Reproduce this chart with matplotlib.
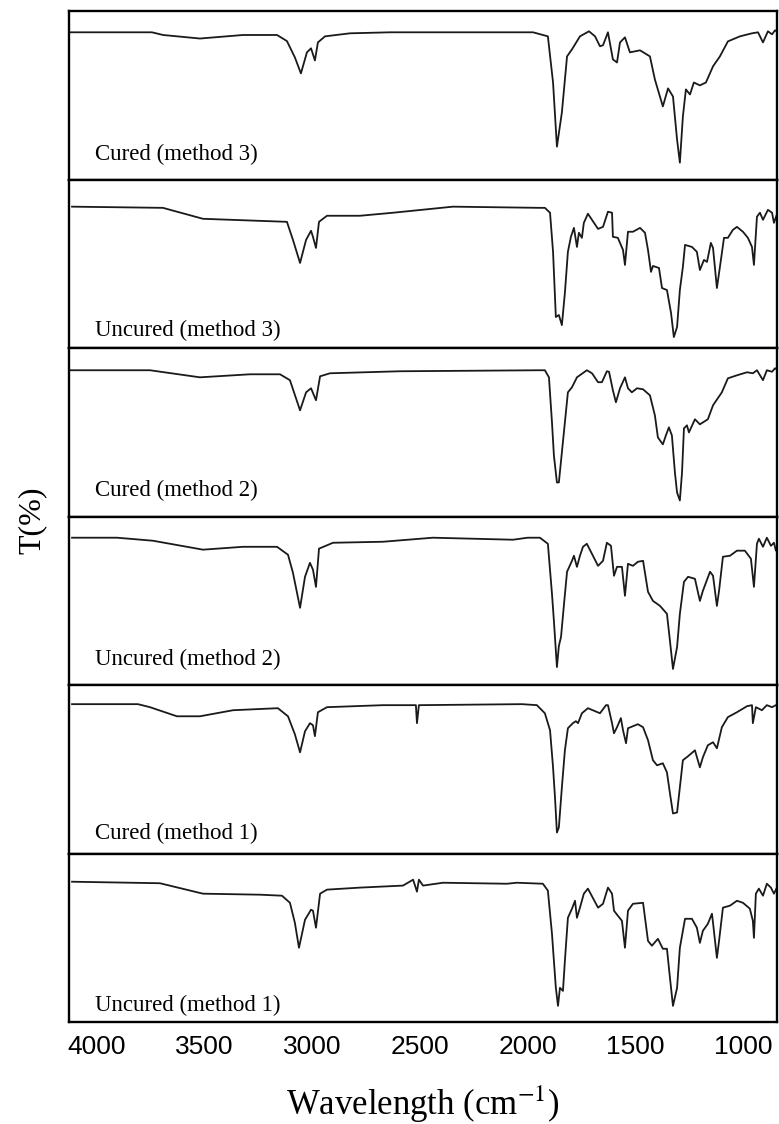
import numpy as np
import matplotlib.pyplot as plt

plt.rcParams['mathtext.fontset'] = 'stix'

# panel labels, top to bottom
labels = ["Cured (method 3)", "Uncured (method 3)", "Cured (method 2)",
          "Uncured (method 2)", "Cured (method 1)", "Uncured (method 1)"]

# wavenumber (cm-1) and transmittance (% of panel height)
wn_c3 = [4125, 3745, 3693, 3522, 3322, 3164, 3118, 3081, 3053, 3025, 3006, 2988, 2974, 2941, 2825, 2639,
         1975, 1906, 1882, 1864, 1841, 1817, 1794, 1757, 1715, 1687, 1664, 1650, 1627, 1604, 1585, 1571,
         1548, 1525, 1478, 1432, 1409, 1372, 1348, 1325, 1306, 1293, 1279, 1265, 1246, 1228, 1200, 1172,
         1139, 1107, 1070, 1014, 958, 930, 907, 884, 865, 851, 838]
t_c3 = [87.5, 87.5, 85.9, 83.8, 85.9, 85.9, 82.3, 72.6, 63.1, 75.6, 78.0, 70.8, 81.5, 85.1, 86.9, 87.5,
        87.5, 85.1, 57.7, 19.6, 39.9, 73.2, 77.4, 85.1, 88.1, 85.1, 79.2, 79.8, 87.5, 71.4, 69.6, 81.5,
        84.5, 75.6, 76.8, 73.2, 59.5, 43.5, 54.2, 49.4, 23.8, 10.1, 37.5, 53.6, 50.6, 57.7, 56.0, 57.7,
        67.3, 73.2, 82.1, 85.1, 86.9, 87.5, 81.5, 88.1, 86.3, 88.7, 87.5]

wn_u3 = [4116, 3694, 3508, 3118, 3090, 3057, 3029, 3006, 2997, 2983, 2969, 2932, 2779, 2625, 2347,
         1943, 1920, 1896, 1882, 1869, 1855, 1841, 1827, 1813, 1799, 1785, 1771, 1762, 1748, 1739, 1720,
         1673, 1650, 1627, 1608, 1604, 1581, 1557, 1548, 1534, 1511, 1478, 1455, 1441, 1427, 1418, 1390,
         1376, 1353, 1334, 1321, 1306, 1293, 1279, 1269, 1237, 1214, 1200, 1181, 1167, 1149, 1139, 1121,
         1107, 1088, 1070, 1047, 1028, 1000, 977, 958, 949, 935, 921, 907, 884, 865, 856, 838]
t_u3 = [84.0, 83.3, 76.8, 75.0, 64.3, 50.6, 64.3, 69.7, 66.1, 59.5, 75.0, 78.6, 78.6, 80.4, 84.0,
        83.3, 83.3, 80.4, 57.2, 18.5, 19.7, 13.7, 32.8, 57.2, 66.1, 71.4, 60.1, 68.5, 65.5, 74.4, 79.8,
        70.8, 72.0, 81.0, 80.4, 66.1, 65.5, 58.3, 49.4, 69.1, 69.1, 71.4, 68.5, 58.3, 45.3, 48.8, 47.6,
        35.7, 34.5, 20.9, 6.6, 12.6, 34.5, 48.2, 61.3, 60.1, 57.2, 46.4, 52.4, 51.2, 62.5, 59.5, 35.7,
        48.2, 65.5, 65.5, 70.2, 72.0, 69.1, 65.5, 60.1, 49.4, 78.0, 80.4, 76.2, 82.1, 80.4, 74.4, 81.0]

wn_c2 = [4125, 3754, 3522, 3289, 3150, 3104, 3057, 3029, 3006, 2983, 2964, 2918, 2593, 1943, 1920,
         1901, 1887, 1878, 1864, 1855, 1841, 1827, 1813, 1794, 1771, 1725, 1701, 1673, 1655, 1632, 1622,
         1604, 1590, 1571, 1548, 1534, 1516, 1492, 1464, 1432, 1409, 1395, 1372, 1358, 1344, 1330, 1316,
         1306, 1293, 1283, 1274, 1260, 1251, 1223, 1200, 1163, 1139, 1098, 1070, 1028, 981, 954, 935,
         907, 889, 865, 851, 838]
t_c2 = [86.9, 86.9, 82.7, 84.5, 84.5, 81.0, 63.1, 73.8, 76.2, 69.1, 83.3, 85.1, 86.3, 86.9, 86.9,
        82.7, 56.0, 36.3, 20.3, 20.3, 38.1, 56.0, 73.8, 76.8, 82.7, 86.9, 85.1, 79.8, 79.8, 86.3, 86.0,
        75.0, 67.9, 76.2, 82.7, 76.2, 73.8, 76.2, 75.6, 72.0, 60.1, 47.0, 42.9, 48.2, 53.0, 48.2, 26.2,
        14.3, 9.6, 26.2, 52.4, 54.2, 50.0, 57.8, 54.8, 57.8, 66.1, 73.8, 82.1, 83.9, 85.7, 85.1, 86.9,
        81.0, 86.9, 86.0, 88.1, 86.9]

wn_u2 = [4116, 3907, 3740, 3508, 3322, 3164, 3113, 3090, 3057, 3034, 3011, 2997, 2983, 2969, 2904,
         2672, 2440, 2068, 2000, 1943, 1906, 1887, 1878, 1864, 1855, 1845, 1831, 1817, 1794, 1785, 1771,
         1757, 1743, 1725, 1673, 1650, 1632, 1613, 1599, 1585, 1562, 1548, 1534, 1511, 1488, 1464, 1441,
         1418, 1385, 1353, 1339, 1325, 1306, 1293, 1274, 1255, 1223, 1200, 1186, 1153, 1139, 1121, 1111,
         1093, 1060, 1028, 991, 963, 949, 935, 926, 907, 889, 870, 856, 847, 838]
t_u2 = [87.5, 87.5, 85.7, 80.4, 82.1, 82.1, 77.4, 66.7, 45.9, 64.3, 72.6, 68.5, 58.3, 81.0, 84.5,
        85.1, 87.5, 86.3, 87.5, 87.5, 83.9, 54.2, 38.1, 10.7, 23.2, 28.6, 48.2, 67.3, 73.8, 76.8, 70.2,
        76.8, 82.1, 83.9, 70.8, 73.8, 84.5, 82.7, 64.9, 70.2, 70.2, 53.0, 72.0, 70.8, 73.2, 73.8, 55.4,
        50.0, 47.0, 42.3, 26.2, 9.6, 22.6, 42.3, 61.3, 64.3, 63.1, 50.0, 56.0, 67.3, 64.9, 47.0, 56.0,
        76.2, 76.8, 79.8, 79.8, 75.0, 58.3, 83.9, 86.9, 82.1, 87.5, 82.7, 84.5, 79.8, 82.7]

wn_c1 = [4116, 3810, 3754, 3629, 3522, 3368, 3160, 3113, 3081, 3057, 3034, 3011, 2997, 2988, 2974,
         2932, 2672, 2519, 2514, 2505, 2026, 1957, 1920, 1896, 1882, 1873, 1864, 1855, 1841, 1827, 1813,
         1790, 1776, 1766, 1748, 1720, 1664, 1636, 1627, 1608, 1599, 1585, 1567, 1557, 1543, 1534, 1488,
         1464, 1441, 1418, 1399, 1372, 1353, 1339, 1325, 1306, 1293, 1279, 1255, 1223, 1200, 1186, 1163,
         1139, 1121, 1098, 1070, 1028, 981, 958, 954, 940, 912, 889, 865, 838]
t_c1 = [88.7, 88.7, 86.9, 81.5, 81.5, 85.1, 86.3, 81.5, 70.8, 60.1, 72.6, 77.4, 76.2, 69.7, 83.9,
        86.9, 88.1, 88.1, 77.4, 88.1, 88.7, 88.1, 83.3, 73.2, 51.2, 33.4, 12.5, 15.5, 39.3, 61.3, 74.4,
        77.4, 78.6, 77.4, 83.3, 86.3, 83.3, 88.1, 88.1, 77.4, 71.4, 75.0, 80.4, 73.2, 65.5, 74.4, 76.8,
        75.0, 67.3, 55.4, 52.4, 53.6, 48.2, 35.7, 23.8, 24.4, 39.3, 55.4, 57.8, 61.3, 51.2, 57.2, 64.3,
        66.1, 62.5, 75.0, 81.0, 83.9, 87.5, 88.1, 77.4, 86.9, 85.1, 88.1, 86.9, 88.7]

wn_u1 = [4116, 3708, 3508, 3243, 3141, 3104, 3081, 3062, 3034, 3006, 2997, 2983, 2964, 2932, 2779,
         2579, 2532, 2523, 2514, 2505, 2486, 2393, 2096, 2050, 1929, 1906, 1887, 1878, 1869, 1859, 1850,
         1836, 1827, 1813, 1794, 1780, 1771, 1757, 1739, 1720, 1673, 1650, 1627, 1608, 1599, 1581, 1562,
         1548, 1534, 1511, 1464, 1441, 1423, 1395, 1372, 1353, 1339, 1325, 1306, 1293, 1269, 1237, 1214,
         1200, 1186, 1163, 1144, 1139, 1121, 1111, 1093, 1060, 1028, 1000, 968, 954, 949, 940, 926,
         907, 889, 870, 856, 838]
t_u1 = [83.3, 82.4, 76.2, 75.6, 75.0, 70.8, 58.9, 44.1, 60.7, 66.7, 66.1, 56.0, 76.2, 78.6, 79.8,
        81.0, 84.5, 81.0, 77.4, 84.5, 81.0, 82.7, 82.1, 82.7, 82.1, 78.0, 52.4, 36.3, 20.3, 9.6, 20.3,
        18.5, 36.3, 61.9, 67.3, 72.0, 61.9, 67.9, 76.2, 79.2, 67.9, 70.2, 79.8, 76.2, 66.1, 63.1, 60.1,
        44.1, 66.1, 70.2, 70.8, 48.2, 45.3, 49.4, 43.5, 43.5, 26.2, 9.6, 20.3, 44.1, 61.3, 61.3, 56.0,
        47.0, 54.2, 58.3, 64.3, 58.9, 38.1, 48.2, 67.9, 69.1, 72.0, 70.8, 67.3, 60.1, 50.0, 76.2, 79.2,
        75.0, 82.1, 79.8, 76.2, 81.0]

spectra = [(wn_c3, t_c3), (wn_u3, t_u3), (wn_c2, t_c2), (wn_u2, t_u2), (wn_c1, t_c1), (wn_u1, t_u1)]
label_y = [0.15, 0.107, 0.155, 0.155, 0.12, 0.10]
xticks = [4000, 3500, 3000, 2500, 2000, 1500, 1000]

fig, axes = plt.subplots(6, 1, sharex=True, figsize=(7.79, 11.24), dpi=100)
fig.subplots_adjust(left=0.0886, right=0.9974, top=0.990, bottom=0.0907, hspace=0)

for ax, (wn, t), lab, ly in zip(axes, spectra, labels, label_y):
    ax.plot(wn, t, color='#1a1a1a', lw=1.3)
    ax.set_ylim(0, 100)
    ax.set_yticks([])
    for s in ax.spines.values():
        s.set_linewidth(1.7)
    ax.text(0.037, ly, lab, transform=ax.transAxes, ha='left', va='center',
            fontsize=16.5, family='Liberation Serif')
    ax.tick_params(axis='x', length=0)

axes[-1].set_xlim(4130, 842)
axes[-1].set_xticks(xticks)
axes[-1].set_xticklabels([str(v) for v in xticks], family='Liberation Sans', fontsize=19)
axes[-1].tick_params(axis='x', length=0, pad=9)
axes[-1].set_xlabel("Wavelength (cm$^{-1}$)", family='Liberation Serif', fontsize=25, labelpad=18)

fig.text(0.041, 0.537, "T(%)", rotation=90, ha='center', va='center',
         family='Liberation Serif', fontsize=23)

fig.savefig("out.png", dpi=100)
